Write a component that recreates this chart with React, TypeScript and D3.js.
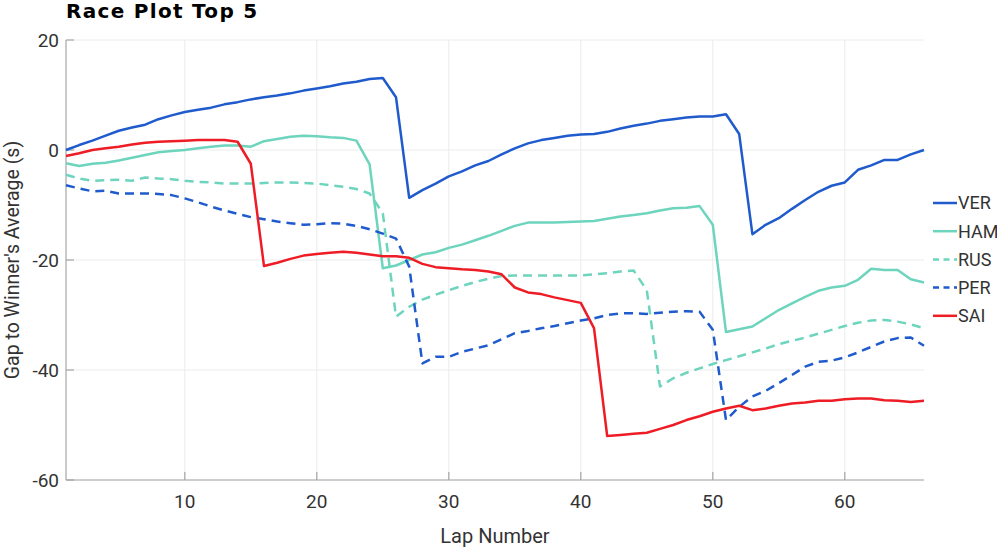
import React from "react";
import * as d3 from "d3";

const laps: number[] = d3.range(1, 67);

const VER = [0, 0.9, 1.7, 2.6, 3.5, 4.1, 4.6, 5.6, 6.3, 6.9, 7.3, 7.7, 8.3, 8.7, 9.2, 9.6, 9.9, 10.3, 10.8, 11.2, 11.6, 12.1, 12.4, 12.9, 13.1, 9.6, -8.7, -7.3, -6.1, -4.8, -3.9, -2.8, -2.0, -0.8, 0.3, 1.2, 1.8, 2.2, 2.6, 2.8, 2.9, 3.3, 3.9, 4.4, 4.8, 5.3, 5.6, 5.9, 6.1, 6.1, 6.5, 2.9, -15.3, -13.6, -12.4, -10.7, -9.1, -7.6, -6.5, -5.9, -3.6, -2.8, -1.8, -1.8, -0.8, 0];
const HAM = [-2.4, -2.9, -2.5, -2.3, -1.9, -1.4, -0.9, -0.4, -0.2, 0, 0.3, 0.6, 0.8, 0.8, 0.6, 1.6, 2.0, 2.4, 2.6, 2.5, 2.3, 2.2, 1.7, -2.6, -21.5, -21.0, -20.0, -19.0, -18.6, -17.8, -17.2, -16.4, -15.6, -14.7, -13.8, -13.2, -13.2, -13.2, -13.1, -13.0, -12.9, -12.5, -12.1, -11.8, -11.5, -11.0, -10.6, -10.5, -10.2, -13.6, -33.1, -32.6, -32.1, -30.6, -29.1, -27.9, -26.7, -25.6, -25.0, -24.7, -23.6, -21.6, -21.8, -21.8, -23.5, -24.1];
const RUS = [-4.5, -5.2, -5.6, -5.5, -5.4, -5.6, -5.0, -5.2, -5.3, -5.6, -5.8, -5.9, -6.1, -6.1, -6.1, -6.0, -5.9, -5.9, -6.0, -6.1, -6.4, -6.7, -7.1, -7.9, -11.5, -30.3, -28.5, -27.2, -26.3, -25.5, -24.7, -24.0, -23.4, -22.9, -22.8, -22.8, -22.8, -22.8, -22.8, -22.8, -22.6, -22.4, -22.1, -21.9, -25.5, -43.0, -41.5, -40.5, -39.7, -38.9, -38.2, -37.5, -36.8, -36.1, -35.3, -34.7, -34.1, -33.4, -32.7, -32.0, -31.4, -31.0, -30.9, -31.2, -31.7, -32.4];
const PER = [-6.4, -7.0, -7.5, -7.4, -7.9, -7.9, -7.9, -8.0, -8.2, -8.8, -9.5, -10.3, -11.0, -11.6, -12.2, -12.6, -13.0, -13.3, -13.6, -13.5, -13.3, -13.4, -13.8, -14.4, -15.2, -16.1, -21.2, -38.8, -37.6, -37.6, -36.7, -36.1, -35.5, -34.4, -33.3, -32.9, -32.4, -32.0, -31.5, -31.0, -30.6, -30.0, -29.7, -29.7, -29.8, -29.6, -29.4, -29.3, -29.4, -32.7, -49.1, -46.7, -44.8, -43.8, -42.4, -40.9, -39.4, -38.5, -38.3, -37.7, -36.8, -35.8, -34.8, -34.2, -34.1, -35.6];
const SAI = [-1.1, -0.6, 0, 0.3, 0.6, 1.0, 1.3, 1.5, 1.6, 1.7, 1.8, 1.8, 1.8, 1.5, -2.5, -21.1, -20.5, -19.8, -19.2, -18.9, -18.7, -18.5, -18.7, -19.0, -19.3, -19.3, -19.6, -20.7, -21.3, -21.5, -21.7, -21.8, -22.1, -22.6, -25.0, -25.9, -26.2, -26.8, -27.3, -27.8, -32.4, -52.0, -51.8, -51.6, -51.4, -50.7, -50.0, -49.1, -48.4, -47.6, -47.0, -46.5, -47.3, -47.0, -46.5, -46.1, -45.9, -45.6, -45.6, -45.3, -45.2, -45.2, -45.5, -45.6, -45.8, -45.6];

const driverNames = ["VER", "HAM", "RUS", "PER", "SAI"];
const driverValues = [VER, HAM, RUS, PER, SAI];
const driverColors = ["#1f5bcc", "#6dd4bd", "#6dd4bd", "#1f5bcc", "#ee1c25"];
const driverDashed = [false, false, true, true, false];

const xTicks = [10, 20, 30, 40, 50, 60];
const yTicks = [20, 0, -20, -40, -60];

const W = 997;
const H = 548;
const M = { left: 66, right: 924, top: 40, bottom: 480 };
const FONT = "Roboto, 'Noto Sans', sans-serif";

export default function App() {
  const x = d3.scaleLinear().domain([1, 66]).range([M.left, M.right]);
  const y = d3.scaleLinear().domain([-60, 20]).range([M.bottom, M.top]);
  const line = d3
    .line<number>()
    .x((_, i) => x(laps[i]))
    .y((d) => y(d));

  const axisColor = "#a6a6a6";
  const gridColor = "#ececec";

  return (
    <svg
      width={W}
      height={H}
      style={{ position: "absolute", left: 0, top: 0, background: "#fff" }}
      fontFamily={FONT}
    >
      {xTicks.map((t) => (
        <line key={"gx" + t} x1={x(t)} x2={x(t)} y1={M.top} y2={M.bottom} stroke={gridColor} strokeWidth={1} />
      ))}
      {yTicks.map((t) => (
        <line key={"gy" + t} x1={M.left} x2={M.right} y1={y(t)} y2={y(t)} stroke={gridColor} strokeWidth={1} />
      ))}
      <line x1={M.left} x2={M.left} y1={M.top} y2={M.bottom} stroke={axisColor} strokeWidth={1.2} />
      <line x1={M.left} x2={M.right} y1={M.bottom} y2={M.bottom} stroke={axisColor} strokeWidth={1.2} />
      {yTicks.map((t) => (
        <g key={"ty" + t}>
          <line x1={M.left} x2={M.left + 8} y1={y(t)} y2={y(t)} stroke={axisColor} strokeWidth={1.2} />
          <text x={M.left - 7} y={y(t)} dy="0.35em" textAnchor="end" fontSize={19} fill="#333">
            {t < 0 ? "-" + Math.abs(t) : String(t)}
          </text>
        </g>
      ))}
      {xTicks.map((t) => (
        <g key={"tx" + t}>
          <line x1={x(t)} x2={x(t)} y1={M.bottom} y2={M.bottom - 8} stroke={axisColor} strokeWidth={1.2} />
          <text x={x(t)} y={508} textAnchor="middle" fontSize={19} fill="#333">
            {t}
          </text>
        </g>
      ))}
      {driverValues.map((vals, i) => (
        <path
          key={driverNames[i]}
          d={line(vals) || ""}
          fill="none"
          stroke={driverColors[i]}
          strokeWidth={2.5}
          strokeDasharray={driverDashed[i] ? "9,6" : undefined}
          strokeLinejoin="round"
        />
      ))}
      {driverNames.map((n, i) => (
        <g key={"lg" + n} transform={`translate(0, ${203 + i * 28.2})`}>
          <line
            x1={933}
            x2={957}
            y1={0}
            y2={0}
            stroke={driverColors[i]}
            strokeWidth={2.5}
            strokeDasharray={driverDashed[i] ? "6,4.5" : undefined}
          />
          <text x={958} y={0} dy="0.35em" fontSize={18} fill="#333">
            {n}
          </text>
        </g>
      ))}
      <text x={495} y={543} textAnchor="middle" fontSize={20} fill="#333">
        Lap Number
      </text>
      <text
        transform={`translate(19, 260) rotate(-90)`}
        textAnchor="middle"
        fontSize={19.5}
        fill="#333"
      >
        Gap to Winner's Average (s)
      </text>
      <text
        x={66}
        y={18}
        fontSize={20}
        fontWeight={900}
        letterSpacing={1.3}
        fontFamily="'DejaVu Sans', sans-serif"
        fill="#000"
      >
        Race Plot Top 5
      </text>
    </svg>
  );
}
